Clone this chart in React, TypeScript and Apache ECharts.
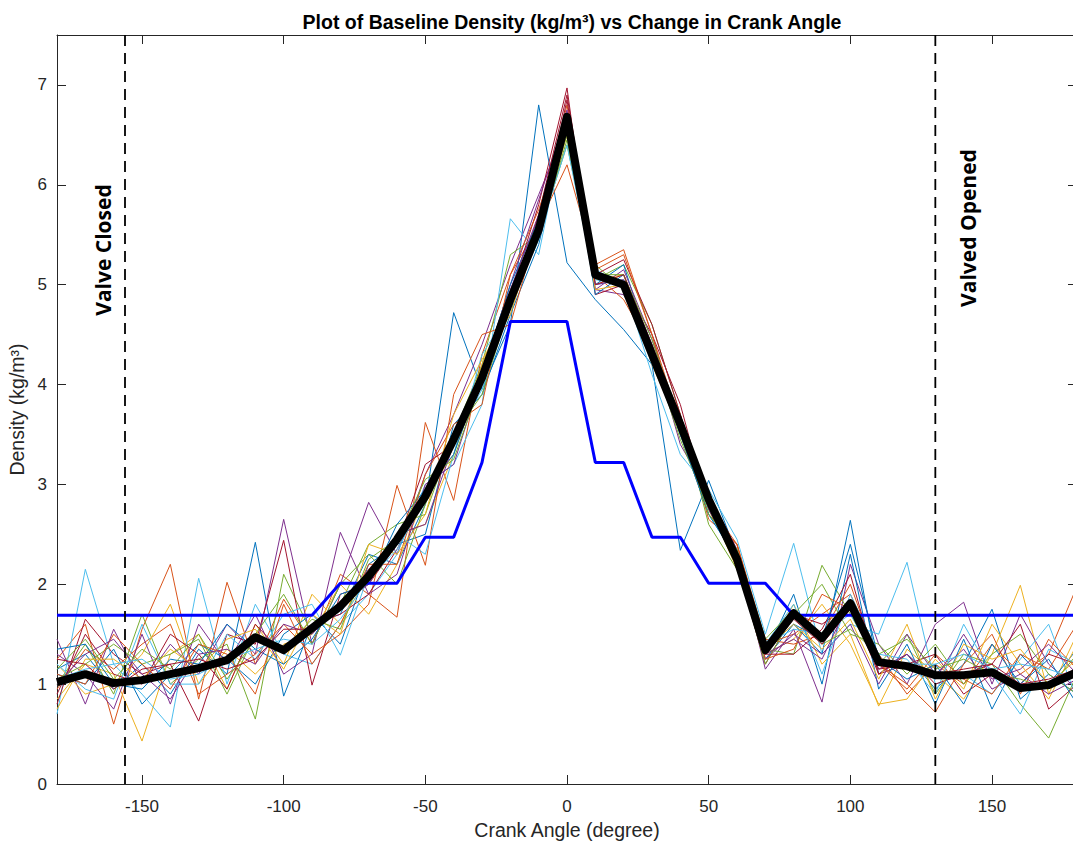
import React, { useEffect, useRef } from "react";
import * as echarts from "echarts";

const angles = [-180, -170, -160, -150, -140, -130, -120, -110, -100, -90, -80, -70, -60, -50, -40, -30, -20, -10, 0, 10, 20, 30, 40, 50, 60, 70, 80, 90, 100, 110, 120, 130, 140, 150, 160, 170, 180];

const meanDensity = [1.02, 1.1, 1.01, 1.04, 1.1, 1.16, 1.24, 1.47, 1.34, 1.56, 1.78, 2.08, 2.45, 2.88, 3.45, 4.07, 4.85, 5.55, 6.68, 5.1, 5.0, 4.3, 3.6, 2.85, 2.25, 1.34, 1.71, 1.46, 1.81, 1.22, 1.18, 1.09, 1.09, 1.12, 0.96, 0.99, 1.12];

const modelDensity = [1.69, 1.69, 1.69, 1.69, 1.69, 1.69, 1.69, 1.69, 1.69, 1.69, 2.01, 2.01, 2.01, 2.47, 2.47, 3.22, 4.63, 4.63, 4.63, 3.22, 3.22, 2.47, 2.47, 2.01, 2.01, 2.01, 1.69, 1.69, 1.69, 1.69, 1.69, 1.69, 1.69, 1.69, 1.69, 1.69, 1.69];

const run01 = [1.15, 1.3, 0.95, 1.2, 0.9, 1.35, 1.1, 2.42, 0.88, 1.6, 1.7, 2.3, 2.2, 2.8, 4.72, 3.95, 4.6, 6.8, 5.22, 4.85, 4.55, 4.2, 2.34, 3.04, 2.3, 1.25, 1.6, 1.3, 2.64, 1.1, 1.3, 0.95, 1.2, 1.75, 0.85, 1.1, 0.9];
const run02 = [1.25, 1.6, 0.6, 1.55, 2.2, 0.85, 2.02, 1.2, 1.85, 1.4, 2.1, 1.9, 1.67, 3.62, 2.84, 4.3, 5.1, 5.6, 6.2, 5.2, 5.35, 4.5, 3.5, 2.7, 2.4, 1.4, 1.5, 1.7, 1.9, 1.3, 0.9, 1.2, 1.0, 1.4, 1.1, 1.3, 1.98];
const run03 = [0.85, 1.2, 1.1, 0.43, 1.3, 1.5, 0.95, 1.6, 1.2, 1.9, 1.6, 2.1, 2.5, 2.6, 3.3, 4.1, 4.8, 5.7, 6.5, 5.0, 5.1, 4.3, 3.6, 2.8, 2.2, 1.3, 1.8, 1.2, 1.5, 0.78, 1.35, 1.1, 0.85, 1.3, 1.99, 0.9, 1.5];
const run04 = [1.45, 0.8, 1.55, 1.0, 1.4, 1.1, 1.6, 1.3, 2.65, 1.4, 2.0, 2.82, 2.3, 3.1, 3.7, 4.4, 5.2, 5.9, 6.6, 4.95, 4.9, 4.4, 3.4, 2.9, 2.3, 1.15, 1.55, 0.82, 2.2, 1.4, 1.0, 1.6, 1.82, 1.0, 1.7, 1.2, 0.95];
const run05 = [1.0, 1.4, 0.9, 1.7, 1.0, 1.25, 1.4, 0.65, 2.1, 1.5, 1.8, 2.4, 2.6, 2.7, 3.5, 4.2, 5.3, 5.5, 6.4, 5.05, 5.2, 4.6, 3.7, 2.6, 2.15, 1.35, 1.3, 2.19, 1.7, 1.2, 1.5, 0.9, 1.3, 1.2, 0.8, 0.46, 1.1];
const run06 = [0.7, 2.15, 1.2, 0.9, 0.57, 2.06, 1.0, 1.8, 1.3, 1.2, 1.6, 1.9, 2.3, 3.0, 3.2, 3.8, 5.66, 5.3, 6.7, 5.15, 5.0, 4.1, 3.3, 2.95, 2.45, 1.5, 2.41, 1.3, 1.6, 1.5, 2.22, 1.0, 1.1, 0.9, 1.25, 1.6, 0.85];
const run07 = [0.8, 1.65, 1.3, 1.1, 1.2, 0.63, 1.5, 1.4, 2.44, 0.99, 1.9, 2.0, 2.4, 3.2, 3.4, 4.0, 4.9, 5.8, 6.97, 4.9, 5.0, 4.5, 3.8, 2.75, 2.2, 1.2, 1.7, 1.6, 1.8, 1.1, 1.2, 1.3, 0.9, 1.1, 1.0, 1.3, 1.2];
const run08 = [1.1, 1.0, 1.35, 0.8, 1.1, 1.4, 1.25, 1.0, 1.5, 1.7, 1.4, 2.2, 2.4, 2.5, 3.6, 3.9, 4.7, 5.4, 6.6, 5.0, 5.2, 4.3, 3.5, 2.85, 2.3, 1.3, 1.9, 1.0, 2.3, 0.95, 1.4, 0.8, 1.45, 0.75, 1.3, 1.0, 1.35];
const run09 = [0.95, 1.35, 1.15, 1.4, 1.6, 0.9, 1.1, 1.3, 1.6, 1.3, 1.5, 1.8, 2.99, 2.19, 3.9, 4.5, 4.6, 5.6, 6.8, 5.1, 4.85, 4.35, 3.7, 2.65, 2.4, 1.45, 1.4, 1.5, 2.0, 1.2, 1.0, 0.72, 1.2, 1.5, 0.9, 1.45, 1.15];
const run10 = [1.2, 0.9, 1.0, 1.3, 1.8, 1.0, 1.35, 1.1, 1.4, 1.5, 2.0, 1.7, 2.2, 2.9, 3.3, 4.2, 4.9, 5.5, 6.5, 5.05, 5.1, 4.2, 3.55, 2.8, 2.15, 1.3, 1.45, 1.8, 1.4, 0.8, 0.85, 1.25, 0.95, 1.6, 1.2, 0.85, 1.4];
const run11 = [1.3, 1.1, 0.75, 1.5, 0.8, 1.6, 1.2, 1.7, 1.1, 1.3, 2.52, 1.9, 2.1, 3.0, 3.2, 4.1, 5.0, 5.85, 6.7, 4.95, 5.15, 4.45, 3.6, 2.9, 2.35, 1.25, 1.5, 1.3, 1.6, 1.0, 1.5, 1.1, 1.35, 0.95, 1.1, 0.9, 1.05];
const run12 = [1.05, 1.2, 1.4, 1.2, 1.3, 1.45, 0.9, 1.5, 1.9, 1.4, 2.0, 2.3, 2.0, 2.8, 3.5, 3.9, 4.8, 5.6, 6.5, 5.2, 4.95, 4.3, 3.45, 2.75, 2.2, 1.2, 1.7, 2.0, 1.5, 1.4, 1.1, 1.4, 1.0, 1.3, 1.5, 1.1, 0.9];
const run13 = [1.2, 0.95, 0.85, 1.6, 1.0, 1.0, 1.5, 1.25, 1.7, 1.8, 1.29, 2.1, 2.5, 2.3, 3.3, 4.3, 4.75, 5.5, 6.4, 5.0, 5.05, 4.2, 3.65, 2.7, 2.25, 1.4, 1.8, 1.1, 1.9, 1.3, 1.25, 0.9, 1.6, 1.1, 0.7, 1.35, 1.2];
const run14 = [0.9, 1.5, 1.1, 1.0, 1.5, 1.3, 0.95, 1.6, 1.3, 1.6, 1.7, 1.9, 2.35, 2.9, 3.4, 4.0, 4.85, 5.7, 6.9, 5.1, 5.25, 4.6, 3.7, 2.8, 2.3, 1.3, 1.3, 1.55, 2.1, 1.1, 1.3, 1.0, 1.1, 1.2, 1.6, 0.75, 1.0];
const run15 = [1.35, 1.4, 1.0, 0.95, 1.25, 1.2, 1.6, 1.35, 1.2, 1.45, 1.9, 2.0, 2.6, 2.95, 3.3, 4.1, 5.0, 5.65, 6.6, 4.9, 5.1, 4.4, 3.5, 2.7, 2.25, 1.35, 1.6, 1.45, 2.4, 1.25, 1.05, 1.2, 0.8, 1.4, 1.0, 1.25, 0.8];
const run16 = [1.1, 1.0, 1.5, 1.2, 0.95, 1.4, 1.3, 0.9, 1.8, 1.2, 1.6, 2.2, 2.2, 3.1, 3.6, 3.8, 5.1, 5.75, 6.6, 5.15, 5.3, 4.5, 3.6, 2.8, 2.4, 1.25, 1.35, 1.9, 1.75, 1.2, 0.95, 1.3, 1.05, 0.9, 1.3, 1.15, 1.6];
const run17 = [0.75, 1.25, 1.25, 1.05, 1.35, 1.15, 1.45, 1.55, 1.15, 1.7, 1.5, 2.4, 2.3, 2.7, 3.7, 4.25, 4.7, 5.6, 6.55, 4.95, 5.0, 4.25, 3.55, 2.85, 2.3, 1.35, 1.6, 1.35, 1.65, 1.05, 1.6, 0.85, 1.4, 1.25, 1.35, 1.0, 1.25];
const run18 = [1.0, 1.3, 1.45, 1.1, 0.85, 1.3, 1.35, 1.2, 1.6, 1.5, 1.8, 2.0, 2.5, 2.6, 3.4, 4.15, 4.95, 5.7, 6.75, 5.0, 5.05, 4.35, 3.65, 2.75, 2.25, 1.3, 1.45, 1.25, 1.85, 1.15, 1.3, 1.05, 1.5, 1.05, 1.15, 1.4, 1.1];
const run19 = [1.15, 1.45, 1.05, 1.35, 1.15, 1.5, 1.05, 1.45, 1.35, 1.65, 1.55, 2.25, 2.45, 3.05, 3.25, 4.05, 4.9, 5.5, 6.45, 5.1, 5.1, 4.45, 3.6, 2.7, 2.35, 1.45, 1.75, 1.4, 1.55, 1.3, 1.45, 1.15, 1.25, 1.1, 1.05, 0.95, 1.3];
const run20 = [1.05, 1.15, 1.2, 1.25, 1.05, 1.1, 1.25, 1.35, 1.45, 1.4, 1.65, 2.05, 2.35, 2.85, 3.45, 3.95, 4.8, 5.45, 6.55, 5.05, 5.0, 4.3, 3.5, 2.8, 2.2, 1.4, 1.55, 1.5, 1.7, 1.25, 1.2, 1.2, 1.3, 1.15, 1.2, 1.15, 1.05];
const run21 = [1.25, 1.2, 0.95, 1.15, 1.2, 1.25, 1.15, 1.25, 1.55, 1.55, 1.75, 2.15, 2.45, 2.85, 3.5, 4.0, 4.85, 5.55, 6.85, 5.0, 5.1, 4.4, 3.65, 2.8, 2.3, 1.3, 1.65, 1.4, 1.75, 1.15, 1.2, 1.1, 1.15, 1.2, 1.0, 1.05, 1.15];

const runs = [run01, run02, run03, run04, run05, run06, run07, run08, run09, run10, run11, run12, run13, run14, run15, run16, run17, run18, run19, run20, run21];

const runColors = ["#0072BD", "#D95319", "#EDB120", "#7E2F8E", "#77AC30", "#4DBEEE", "#A2142F"];

const xTicks = [-150, -100, -50, 0, 50, 100, 150];
const valveClosedAngle = -156;
const valveOpenedAngle = 130;

const axisColor = "#262626";
const font = "'Liberation Sans', Arial, Helvetica, sans-serif";

export default function App() {
  const ref = useRef<HTMLDivElement>(null);

  useEffect(() => {
    if (!ref.current) return;
    const chart = echarts.init(ref.current, undefined, { renderer: "svg" });

    const pairs = (vals: number[]) => angles.map((a, i) => [a, vals[i]]);

    const runSeries = runs.map((r, i) => ({
      type: "line",
      name: "Run " + (i + 1),
      data: pairs(r),
      symbol: "none",
      lineStyle: { color: runColors[i % runColors.length], width: 1 },
      itemStyle: { color: runColors[i % runColors.length] },
      z: 2,
    }));

    const vline = (x: number) => ({
      type: "line",
      data: [
        [x, 0],
        [x, 7.5],
      ],
      symbol: "none",
      lineStyle: { color: "#000", width: 1.8, type: [11, 7] },
      z: 5,
    });

    const labelText = (text: string) => ({
      text,
      fontFamily: "'Open Sans', 'Noto Sans', sans-serif",
      fontWeight: "bold",
      fontSize: 21,
      fill: "#000",
      textAlign: "center",
      textVerticalAlign: "middle",
    });

    const option: any = {
      animation: false,
      backgroundColor: "#fff",
      title: {
        text: "Plot of Baseline Density (kg/m³) vs Change in Crank Angle",
        left: 567,
        textAlign: "center",
        top: 7,
        textStyle: { fontFamily: font, fontSize: 19.5, fontWeight: "bold", color: "#000" },
      },
      grid: { left: 57, right: -4, top: 35, bottom: 62, outerBoundsMode: "none", containLabel: false },
      xAxis: [
        {
          type: "value",
          min: -180,
          max: 180,
          name: "Crank Angle (degree)",
          nameLocation: "middle",
          nameGap: 35,
          nameTextStyle: { fontFamily: font, fontSize: 19.5, color: axisColor },
          axisLine: { show: true, onZero: false, lineStyle: { color: axisColor, width: 1 } },
          axisTick: { show: true, inside: true, length: 9, customValues: xTicks, lineStyle: { color: axisColor } },
          axisLabel: { customValues: xTicks, fontFamily: font, fontSize: 17, color: axisColor, margin: 14 },
          splitLine: { show: false },
        },
        {
          type: "value",
          position: "top",
          min: -180,
          max: 180,
          axisLine: { show: true, onZero: false, lineStyle: { color: axisColor, width: 1 } },
          axisTick: { show: true, inside: true, length: 9, customValues: xTicks, lineStyle: { color: axisColor } },
          axisLabel: { show: false },
          splitLine: { show: false },
        },
      ],
      yAxis: [
        {
          type: "value",
          min: 0,
          max: 7.5,
          interval: 1,
          name: "Density (kg/m³)",
          nameLocation: "middle",
          nameGap: 26,
          nameTextStyle: { fontFamily: font, fontSize: 19.5, color: axisColor },
          axisLine: { show: true, onZero: false, lineStyle: { color: axisColor, width: 1 } },
          axisTick: { show: true, inside: true, length: 9, lineStyle: { color: axisColor } },
          axisLabel: {
            fontFamily: font,
            fontSize: 17,
            color: axisColor,
            margin: 10,
            formatter: (v: number) => (Number.isInteger(v) ? String(v) : ""),
          },
          splitLine: { show: false },
        },
        {
          type: "value",
          position: "right",
          min: 0,
          max: 7.5,
          interval: 1,
          axisLine: { show: true, onZero: false, lineStyle: { color: axisColor, width: 1 } },
          axisTick: { show: true, inside: true, length: 9, lineStyle: { color: axisColor } },
          axisLabel: { show: false },
          splitLine: { show: false },
        },
      ],
      series: [
        ...runSeries,
        {
          type: "line",
          name: "Model",
          data: pairs(modelDensity),
          symbol: "none",
          lineStyle: { color: "#0000FF", width: 3 },
          itemStyle: { color: "#0000FF" },
          z: 3,
        },
        {
          type: "line",
          name: "Mean",
          data: pairs(meanDensity),
          symbol: "none",
          lineStyle: { color: "#000", width: 8, join: "round" },
          itemStyle: { color: "#000" },
          z: 4,
        },
        vline(valveClosedAngle),
        vline(valveOpenedAngle),
      ],
      graphic: [
        { type: "text", x: 103, y: 250, rotation: Math.PI / 2, style: labelText("Valve Closed"), z: 10 },
        { type: "text", x: 968, y: 228, rotation: Math.PI / 2, style: labelText("Valved Opened"), z: 10 },
      ],
    };

    chart.setOption(option);
    return () => chart.dispose();
  }, []);

  return (
    <div
      ref={ref}
      style={{ position: "fixed", left: 0, top: 0, width: 1073, height: 846, background: "#fff" }}
    />
  );
}
